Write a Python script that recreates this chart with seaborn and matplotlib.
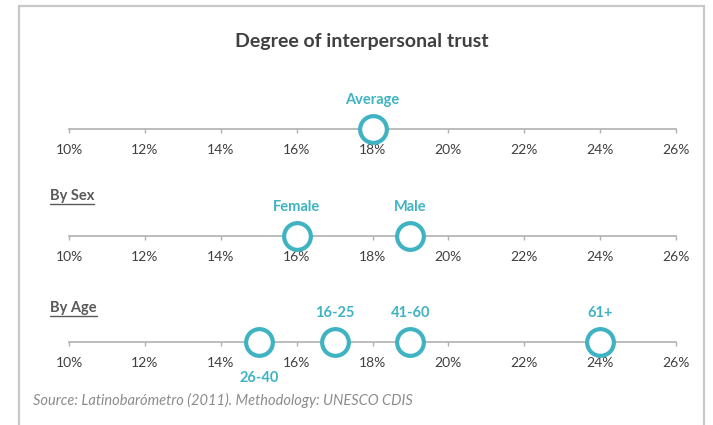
import matplotlib
matplotlib.use('Agg')
import matplotlib.pyplot as plt
import seaborn as sns
from matplotlib.patches import Rectangle
from matplotlib.lines import Line2D

# values (percent)
avg_labels = ['Average']
avg_values = [18]
sex_labels = ['Female', 'Male']
sex_values = [16, 19]
age_labels = ['16-25', '26-40', '41-60', '61+']
age_values = [17, 15, 19, 24]
tick_values = [10, 12, 14, 16, 18, 20, 22, 24, 26]
tick_labels = ['10%', '12%', '14%', '16%', '18%', '20%', '22%', '24%', '26%']

sns.set_theme(style='white')
plt.rcParams['font.family'] = ['Lato', 'DejaVu Sans']

teal = '#3fb3c2'
dark = '#404040'
W, H = 713, 425
fig = plt.figure(figsize=(W / 100, H / 100), dpi=100)

# outer frame of the chart box
fig.patches.append(Rectangle((19 / W, -0.1), 685 / W, 1.1 - 6 / H, transform=fig.transFigure,
                             fill=False, edgecolor='#c8c8c8', linewidth=1.6))

fig.text(362 / W, 1 - 41 / H, 'Degree of interpersonal trust', ha='center', va='center',
         fontsize=14, color=dark, fontweight='bold')


def draw_row(y_px, labels, values, below=()):
    ax = fig.add_axes([69 / W, 1 - (y_px + 30) / H, 607 / W, 60 / H])
    ax.set_xlim(10, 26)
    ax.set_ylim(-1, 1)
    for s in ['top', 'left', 'right']:
        ax.spines[s].set_visible(False)
    ax.spines['bottom'].set_position(('data', 0))
    ax.spines['bottom'].set_color('#b0b0b0')
    ax.spines['bottom'].set_linewidth(1.2)
    ax.set_yticks([])
    ax.set_xticks(tick_values)
    ax.set_xticklabels(tick_labels)
    ax.tick_params(axis='x', direction='out', length=3, width=1, color='#b0b0b0',
                   pad=8, labelsize=10, labelcolor=dark, bottom=True)
    ax.patch.set_alpha(0)
    sns.scatterplot(x=values, y=[0] * len(values), ax=ax, s=370, marker='o',
                    facecolor='white', edgecolor=teal, linewidth=3.0, zorder=4, clip_on=False)
    for lab, v in zip(labels, values):
        if lab in below:
            ax.annotate(lab, (v, 0), xytext=(0, -26), textcoords='offset points',
                        ha='center', va='center', color=teal, fontsize=10.5, fontweight='bold')
        else:
            ax.annotate(lab, (v, 0), xytext=(0, 21), textcoords='offset points',
                        ha='center', va='center', color=teal, fontsize=10.5, fontweight='bold')
    return ax


draw_row(129, avg_labels, avg_values)
draw_row(236, sex_labels, sex_values)
draw_row(342, age_labels, age_values, below=('26-40',))

# underlined group headers
for txt, y in [('By Sex', 196), ('By Age', 308)]:
    t = fig.text(50 / W, 1 - y / H, txt, ha='left', va='center', fontsize=10.5,
                 fontweight='bold', color='#595959')
    fig.canvas.draw()
    bb = t.get_window_extent()
    fig.add_artist(Line2D([bb.x0 / W, bb.x1 / W], [(bb.y0 - 1) / H, (bb.y0 - 1) / H],
                          transform=fig.transFigure, color='#595959', linewidth=1))

fig.text(33 / W, 1 - 400 / H, 'Source: Latinobarómetro (2011). Methodology: UNESCO CDIS',
         ha='left', va='center', fontsize=10.5, style='italic', color='#8c8c8c')

fig.savefig('out.png', dpi=100)
